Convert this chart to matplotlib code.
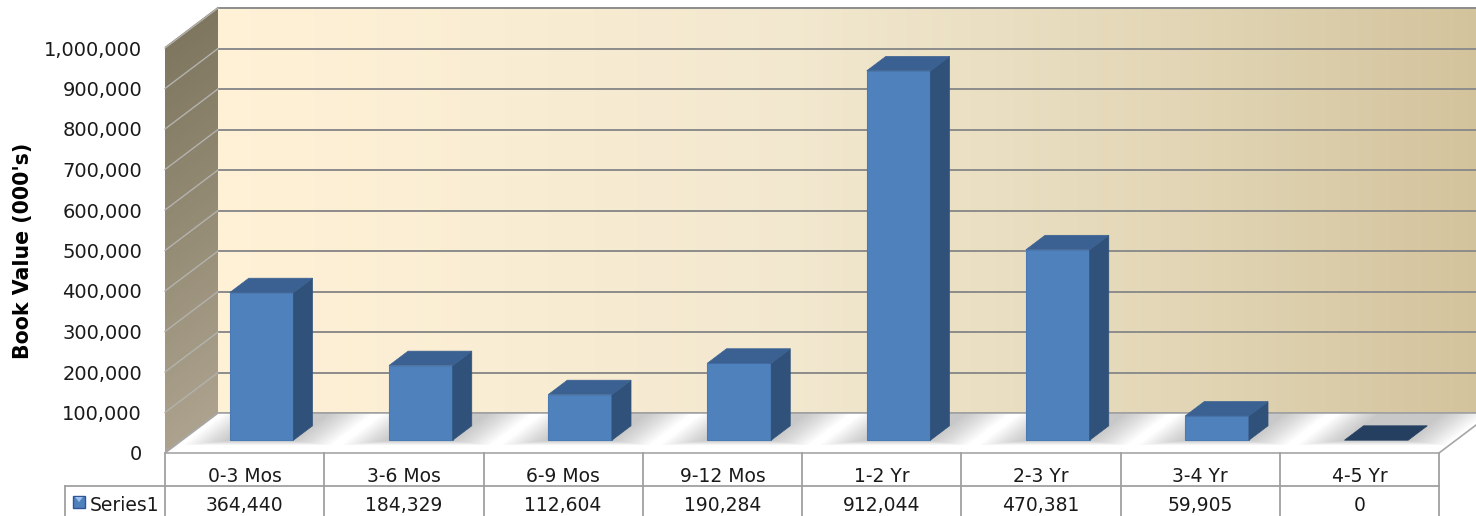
import numpy as np
import matplotlib
matplotlib.use("Agg")
import matplotlib.pyplot as plt
from matplotlib.patches import Polygon, Rectangle
from matplotlib.collections import PolyCollection
from matplotlib.colors import to_rgb
from matplotlib.transforms import blended_transform_factory
from matplotlib.lines import Line2D

# ---------------- data ----------------
categories = ["0-3 Mos", "3-6 Mos", "6-9 Mos", "9-12 Mos", "1-2 Yr", "2-3 Yr", "3-4 Yr", "4-5 Yr"]
values = [364440, 184329, 112604, 190284, 912044, 470381, 59905, 0]
series_name = "Series1"
y_ticks = list(range(0, 1000001, 100000))
y_label = "Book Value (000's)"

# ---------------- layout ----------------
W, H = 1476, 516
fig = plt.figure(figsize=(W / 100, H / 100), dpi=100)
fig.patch.set_facecolor("white")
L, R, T, B = 165, 1439, 48, 453  # front plane in pixels
ax = fig.add_axes([L / W, 1 - B / H, (R - L) / W, (B - T) / H])
n = len(categories)
ymax = 1_000_000
ax.set_xlim(0, n)
ax.set_ylim(0, ymax)
for s in ax.spines.values():
    s.set_visible(False)
ax.patch.set_visible(False)
ax.set_xticks([])
ax.set_yticks(y_ticks)
ax.set_yticklabels([f"{v:,}" for v in y_ticks])
ax.tick_params(axis="y", length=0, pad=16.5, labelsize=14, labelcolor="#1a1a1a")
ax.set_ylabel(y_label, fontsize=14.8, fontweight="bold")
ax.yaxis.set_label_coords(-0.1036, 0.5)

# depth offsets (3-D oblique projection) in data units
DX = 53 / ((R - L) / n)
DY = 40 / ((B - T) / ymax)


def proj(x, y, d):
    return (x + d * DX, y + d * DY)


def lerp_color(stops, t):
    pos = [p for p, _ in stops]
    cols = np.array([to_rgb(c) for _, c in stops])
    return tuple(np.interp(t, pos, cols[:, k]) for k in range(3))


# back wall (horizontal gradient)
nstrip = 200
xs = np.linspace(0, n, nstrip + 1)
back_stops = [(0.0, "#FFF1D6"), (0.45, "#F2E8CF"), (0.75, "#E2D6B6"), (1.0, "#D2C29B")]
polys, cols = [], []
for k in range(nstrip):
    a, b = xs[k], xs[k + 1] + 0.01
    polys.append([proj(a, 0, 1), proj(b, 0, 1), proj(b, ymax, 1), proj(a, ymax, 1)])
    cols.append(lerp_color(back_stops, (k + 0.5) / nstrip))
pc = PolyCollection(polys, facecolors=cols, edgecolors="none", transform=ax.transData, clip_on=False, zorder=0)
ax.add_collection(pc)

# side wall (vertical gradient)
ys = np.linspace(0, ymax, nstrip + 1)
side_stops = [(0.0, "#ACA28D"), (1.0, "#7E765F")]
polys, cols = [], []
for k in range(nstrip):
    a, b = ys[k], ys[k + 1] + 3000
    polys.append([proj(0, a, 0), proj(0, b, 0), proj(0, b, 1), proj(0, a, 1)])
    cols.append(lerp_color(side_stops, (k + 0.5) / nstrip))
pc = PolyCollection(polys, facecolors=cols, edgecolors="none", transform=ax.transData, clip_on=False, zorder=0)
ax.add_collection(pc)

# gridlines
for v in y_ticks:
    x0, y0 = proj(0, v, 1)
    x1, y1 = proj(n, v, 1)
    ax.add_line(Line2D([x0, x1], [y0, y1], color="#8C8C8C", lw=1.4, clip_on=False, zorder=1))
    xa, ya = proj(0, v, 0)
    ax.add_line(Line2D([xa, x0], [ya, y0], color="#B4B2AE", lw=1.0, clip_on=False, zorder=1))

# floor
floor = Polygon([proj(0, 0, 0), proj(n, 0, 0), proj(n, 0, 1), proj(0, 0, 1)], closed=True,
                facecolor="white", edgecolor="#A6A6A6", lw=1.2, clip_on=False, zorder=2)
ax.add_patch(floor)

# bars
bw = 0.4
d0, d1 = 0.32, 0.68
for i, v in enumerate(values):
    xl = i + 0.5 - bw / 2
    xr = i + 0.5 + bw / 2
    # soft shadow on floor
    nl = 12
    for k in range(nl):
        t = k / (nl - 1)
        el = 0.24 * (1 - t) + 0.01
        er = 0.26 * (1 - t) + 0.01
        da = 0.20 + 0.11 * t
        db = 0.98
        sh = Polygon([proj(xl - el, 0, da), proj(xr + er, 0, da), proj(xr + er, 0, db), proj(xl - el, 0, db)],
                     closed=True, facecolor="#606060", edgecolor="none", alpha=0.03,
                     clip_on=False, zorder=3)
        ax.add_patch(sh)
    if v > 0:
        fx, fy = proj(xl, 0, d0)
        ax.add_patch(Rectangle((fx, fy), bw, v, facecolor="#4F81BD", edgecolor="#4A7AB3", lw=0.8,
                               clip_on=False, zorder=5))
        side = Polygon([proj(xr, 0, d0), proj(xr, 0, d1), proj(xr, v, d1), proj(xr, v, d0)], closed=True,
                       facecolor="#30527A", edgecolor="#30527A", lw=0.5, clip_on=False, zorder=5)
        ax.add_patch(side)
        top_col = "#3B6192"
    else:
        top_col = "#243F60"
    top = Polygon([proj(xl, v, d0), proj(xr, v, d0), proj(xr, v, d1), proj(xl, v, d1)], closed=True,
                  facecolor=top_col, edgecolor=top_col, lw=0.5, clip_on=False, zorder=6)
    ax.add_patch(top)

# ---------------- data table ----------------
def fy(py):
    return 1 - py / H


def fxp(px):
    return px / W


bt = blended_transform_factory(ax.transData, fig.transFigure)
gc = "#A0A0A0"
row1_top, row2_top, tbl_bot = 453, 486, 516
for i in range(n + 1):
    fig.add_artist(Line2D([i, i], [fy(row1_top), fy(tbl_bot)], transform=bt, color=gc, lw=1.3))
fig.add_artist(Line2D([fxp(65), fxp(R)], [fy(row2_top), fy(row2_top)], color=gc, lw=1.3))
fig.add_artist(Line2D([fxp(65), fxp(65)], [fy(row2_top), fy(tbl_bot)], color=gc, lw=1.3))

for i, (c, v) in enumerate(zip(categories, values)):
    fig.text(i + 0.5, fy(482), c, transform=bt, ha="center", va="baseline", fontsize=13.5, color="#1a1a1a")
    fig.text(i + 0.5, fy(511), f"{v:,}", transform=bt, ha="center", va="baseline", fontsize=13.5, color="#1a1a1a")

# legend key
fig.add_artist(Rectangle((fxp(73), fy(508)), 12 / W, 12 / H, transform=fig.transFigure,
                         facecolor="#4F81BD", edgecolor="#2F5597", lw=1.0))
fig.add_artist(Polygon([(fxp(75), fy(497)), (fxp(83), fy(497)), (fxp(79), fy(502))], closed=True,
                       transform=fig.transFigure, facecolor="#9CC0EC", edgecolor="none"))
fig.text(fxp(90), fy(511), series_name, ha="left", va="baseline", fontsize=13.5, color="#1a1a1a")

fig.savefig("out.png", dpi=100)
